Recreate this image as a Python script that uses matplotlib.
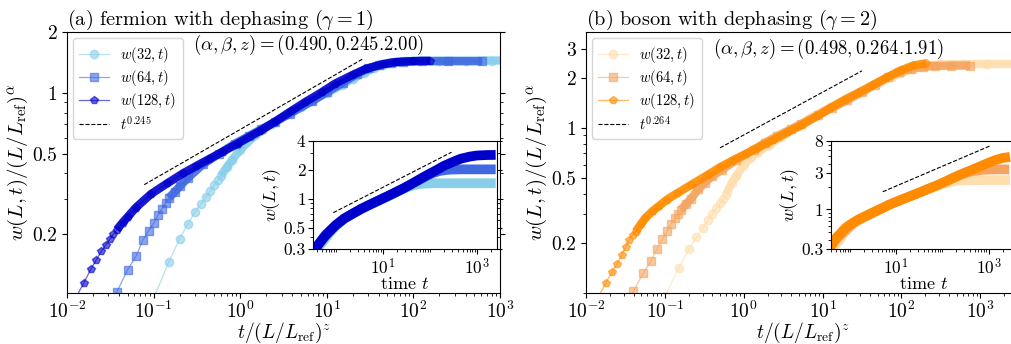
import numpy as np
import matplotlib
matplotlib.use('Agg')
import matplotlib.pyplot as plt
from matplotlib.ticker import LogLocator, NullFormatter

plt.rcParams['font.family'] = 'serif'
plt.rcParams['font.serif'] = ['cmr10']
plt.rcParams['mathtext.fontset'] = 'cm'
plt.rcParams['axes.formatter.use_mathtext'] = True

L_REF = 32
SIZES = [32, 64, 128]

# fermion, raw width w(L, t) against time t
t_f32 = [0.1, 0.15, 0.2, 0.25, 0.3, 0.35, 0.4, 0.45, 0.5, 0.55, 0.6, 0.7, 0.8, 1.0, 1.5, 2.3, 3.5, 5, 7,
         10, 15, 20, 27, 35, 45, 60, 80, 120, 200, 400, 800, 1500, 2500]
w_f32 = [0.096, 0.146, 0.19, 0.226, 0.258, 0.282, 0.306, 0.328, 0.35, 0.37, 0.39, 0.43, 0.465, 0.525, 0.62,
         0.70, 0.785, 0.855, 0.925, 1.0, 1.1, 1.18, 1.26, 1.33, 1.38, 1.42, 1.44, 1.45, 1.45, 1.45, 1.45,
         1.45, 1.45]
t_f64 = [0.1, 0.15, 0.2, 0.25, 0.3, 0.35, 0.4, 0.45, 0.5, 0.55, 0.6, 0.7, 0.8, 1.0, 1.5, 2.3, 3.5, 5, 7,
         10, 15, 27, 40, 61, 90, 120, 160, 220, 300, 500, 1000, 2500]
w_f64 = [0.096, 0.145, 0.187, 0.218, 0.262, 0.293, 0.318, 0.35, 0.376, 0.402, 0.425, 0.455, 0.485, 0.535,
         0.625, 0.705, 0.79, 0.86, 0.93, 1.01, 1.11, 1.28, 1.42, 1.58, 1.75, 1.86, 1.94, 1.99, 2.01, 2.02,
         2.02, 2.02]
t_f128 = [0.1, 0.15, 0.2, 0.25, 0.3, 0.35, 0.4, 0.45, 0.5, 0.55, 0.6, 0.7, 0.8, 1.0, 1.5, 2.3, 3.5, 5, 7,
          10, 15, 27, 40, 61, 90, 139, 200, 314, 450, 710, 1000, 1600, 2500]
w_f128 = [0.096, 0.146, 0.19, 0.226, 0.264, 0.295, 0.325, 0.35, 0.372, 0.395, 0.415, 0.45, 0.48, 0.535,
          0.625, 0.705, 0.79, 0.86, 0.93, 1.01, 1.11, 1.28, 1.42, 1.6, 1.78, 1.99, 2.2, 2.42, 2.6, 2.74,
          2.81, 2.84, 2.85]

# boson, raw width w(L, t) against time t
t_b32 = [0.1, 0.15, 0.2, 0.25, 0.3, 0.35, 0.4, 0.45, 0.5, 0.55, 0.6, 0.7, 0.8, 1.0, 1.2, 1.5, 2, 3, 5, 7,
         10, 15, 20, 33, 50, 76, 100, 140, 200, 300, 600, 1200, 2900]
w_b32 = [0.096, 0.143, 0.184, 0.218, 0.247, 0.276, 0.303, 0.327, 0.35, 0.372, 0.395, 0.465, 0.51, 0.6,
         0.655, 0.71, 0.78, 0.88, 1.03, 1.15, 1.26, 1.39, 1.49, 1.68, 1.86, 2.03, 2.15, 2.28, 2.37, 2.42,
         2.43, 2.43, 2.43]
t_b64 = [0.1, 0.15, 0.2, 0.25, 0.3, 0.35, 0.4, 0.45, 0.5, 0.55, 0.6, 0.7, 0.8, 1.0, 1.2, 1.5, 2, 3, 5, 7,
         10, 15, 20, 33, 50, 76, 120, 174, 250, 350, 500, 700, 1000, 1600, 2800]
w_b64 = [0.097, 0.146, 0.187, 0.222, 0.263, 0.3, 0.336, 0.37, 0.4, 0.425, 0.45, 0.49, 0.525, 0.6, 0.66,
         0.72, 0.79, 0.9, 1.04, 1.15, 1.26, 1.39, 1.49, 1.68, 1.87, 2.07, 2.33, 2.58, 2.85, 3.07, 3.22,
         3.3, 3.34, 3.36, 3.36]
t_b128 = [0.1, 0.15, 0.2, 0.25, 0.3, 0.35, 0.4, 0.45, 0.5, 0.55, 0.6, 0.7, 0.8, 1.0, 1.2, 1.5, 2, 3, 5, 7,
          10, 15, 20, 33, 50, 76, 120, 174, 270, 400, 600, 900, 1400, 2000, 2900]
w_b128 = [0.097, 0.146, 0.188, 0.229, 0.267, 0.301, 0.339, 0.38, 0.419, 0.45, 0.47, 0.522, 0.57, 0.63,
          0.675, 0.735, 0.8, 0.9, 1.04, 1.15, 1.26, 1.39, 1.49, 1.68, 1.87, 2.07, 2.35, 2.62, 2.95, 3.25,
          3.6, 4.0, 4.45, 4.75, 4.9]

# dashed power-law guides, end points
guide_f_main = ([0.078, 26.3], [0.352, 1.48])
guide_f_inset = ([0.877, 288], [0.718, 3.04])
guide_b_main = ([0.5, 31.5], [0.757, 2.21])
guide_b_inset = ([5.15, 1050], [1.71, 6.8])

colors_f = ['skyblue', 'royalblue', 'mediumblue']
colors_b = ['navajowhite', 'sandybrown', 'darkorange']
markers = ['o', 's', 'p']


def set_log_ticks(axis, major, labels):
    axis.set_major_locator(matplotlib.ticker.FixedLocator(major))
    axis.set_major_formatter(matplotlib.ticker.FixedFormatter(labels))
    axis.set_minor_locator(LogLocator(base=10, subs=np.arange(1, 10), numticks=50))
    axis.set_minor_formatter(NullFormatter())


def draw_panel(ax, ins, ts, ws, colors, alpha_exp, z, guide_main, guide_inset, beta_label):
    for t, w, L, c, m in zip(ts, ws, SIZES, colors, markers):
        t = np.array(t)
        w = np.array(w)
        t_scaled = t / (L / L_REF) ** z
        w_scaled = w / (L / L_REF) ** alpha_exp
        ax.plot(t_scaled, w_scaled, color=c, marker=m, ms=6, lw=0.9, alpha=0.6, label=f'$w({L},t)$')
        late = t >= 0.6
        ax.plot(t_scaled[late], w_scaled[late], color=c, lw=6, alpha=0.9, solid_capstyle='butt')
        ins.plot(t, w, color=c, lw=7, solid_capstyle='butt')

    ax.plot(guide_main[0], guide_main[1], 'k--', lw=0.8, label=beta_label)
    ins.plot(guide_inset[0], guide_inset[1], 'k--', lw=0.8)

    ax.set_xscale('log')
    ax.set_yscale('log')
    ins.set_xscale('log')
    ins.set_yscale('log')
    ax.set_xlabel(r'$t/(L/L_{\rm ref})^z$', fontsize=14, labelpad=-1)
    ax.set_ylabel(r'$w(L,t)/(L/L_{\rm ref})^\alpha$', fontsize=15, labelpad=2)
    ax.tick_params(which='both', labelsize=14, right=True)
    ax.tick_params(axis='x', pad=2)
    ins.set_xlabel(r'time $t$', fontsize=13, labelpad=-1)
    ins.set_ylabel(r'$w(L,t)$', fontsize=13, labelpad=0)
    ins.tick_params(which='both', labelsize=12.5, right=True, pad=2)
    ins.xaxis.set_major_locator(matplotlib.ticker.FixedLocator([10, 1000]))
    ins.xaxis.set_major_formatter(matplotlib.ticker.LogFormatterMathtext())
    ins.xaxis.set_minor_locator(LogLocator(base=10, subs=np.arange(1, 10), numticks=50))
    ins.xaxis.set_minor_formatter(NullFormatter())
    ax.legend(loc='upper left', fontsize=10.5, handlelength=2.0, handletextpad=0.8,
              labelspacing=0.22, borderaxespad=0.4, borderpad=0.45)


def main():
    fig = plt.figure(figsize=(10.12, 3.44), dpi=100)
    ax1 = fig.add_axes([0.0662, 0.1474, 0.4279, 0.7587])
    ax2 = fig.add_axes([0.5791, 0.1474, 0.4279, 0.7587])
    in1 = fig.add_axes([0.3096, 0.2753, 0.1812, 0.3157])
    in2 = fig.add_axes([0.8211, 0.2753, 0.1828, 0.3157])

    draw_panel(ax1, in1, [t_f32, t_f64, t_f128], [w_f32, w_f64, w_f128], colors_f, 0.490, 2.00,
               guide_f_main, guide_f_inset, r'$t^{0.245}$')
    draw_panel(ax2, in2, [t_b32, t_b64, t_b128], [w_b32, w_b64, w_b128], colors_b, 0.498, 1.91,
               guide_b_main, guide_b_inset, r'$t^{0.264}$')

    ax1.set_xlim(1e-2, 1e3)
    ax1.set_ylim(0.102, 2)
    set_log_ticks(ax1.yaxis, [0.2, 0.5, 1, 2], ['0.2', '0.5', '1', '2'])
    ax2.set_xlim(1e-2, 3100)
    ax2.set_ylim(0.1, 3.78)
    set_log_ticks(ax2.yaxis, [0.2, 0.5, 1, 2, 3], ['0.2', '0.5', '1', '2', '3'])

    in1.set_xlim(0.33, 2630)
    in1.set_ylim(0.3, 4)
    set_log_ticks(in1.yaxis, [0.3, 0.5, 1, 2, 4], ['0.3', '0.5', '1', '2', '4'])
    in2.set_xlim(0.39, 3900)
    in2.set_ylim(0.3, 8)
    set_log_ticks(in2.yaxis, [0.3, 1, 3, 8], ['0.3', '1', '3', '8'])

    ax1.set_title(r'(a) fermion with dephasing ($\gamma = 1$)', loc='left', fontsize=14.6, pad=3)
    ax2.set_title(r'(b) boson with dephasing ($\gamma = 2$)', loc='left', fontsize=14.6, pad=3)
    ax1.text(0.292, 0.951, r'$(\alpha,\beta,z) = (0.490, 0.245.2.00)$', transform=ax1.transAxes,
             fontsize=13.5, va='center')
    ax2.text(0.294, 0.936, r'$(\alpha,\beta,z) = (0.498, 0.264.1.91)$', transform=ax2.transAxes,
             fontsize=13.5, va='center')

    fig.savefig('out.png', dpi=100)


if __name__ == '__main__':
    main()
